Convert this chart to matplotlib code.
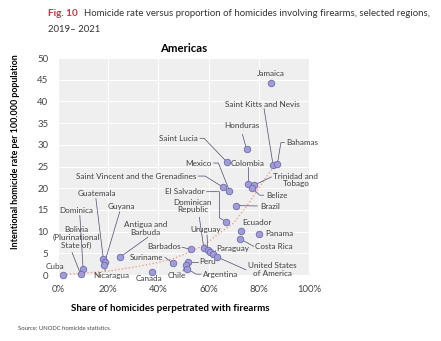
import matplotlib

matplotlib.use("Agg")
import matplotlib.pyplot as plt

plt.rcParams["font.family"] = ["Lato", "DejaVu Sans"]

# ---------------------------------------------------------------- data
COUNTRIES = [
    "Jamaica", "Saint Kitts and Nevis", "Bahamas", "Honduras", "Saint Lucia",
    "Colombia", "Trinidad and\nTobago", "Belize", "Saint Vincent and the Grenadines",
    "Mexico", "Brazil", "El Salvador", "Ecuador", "Panama", "Costa Rica",
    "Dominican\nRepublic", "Uruguay", "", "Paraguay", "United States\nof America",
    "Barbados", "Peru", "Chile", "Argentina", "Suriname", "Canada",
    "Antigua and\nBarbuda", "Guatemala", "Guyana", "Nicaragua", "Dominica",
    "Bolivia\n(Plurinational\nState of)", "Cuba",
]
FIREARM_SHARE = [  # % of homicides perpetrated with firearms
    84.8, 85.7, 87.4, 75.1, 67.2,
    75.5, 78.2, 77.3, 65.6,
    68.3, 71.1, 66.9, 72.9, 80.2, 72.6,
    58.1, 59.6, 60.6, 61.6, 63.2,
    53.0, 51.7, 50.8, 51.3, 45.8, 37.6,
    24.9, 18.1, 18.7, 18.5, 10.0,
    9.0, 2.1,
]
HOMICIDE_RATE = [  # per 100,000 population
    44.3, 25.3, 25.6, 29.0, 26.1,
    20.9, 20.7, 20.1, 20.3,
    19.4, 16.0, 12.3, 10.2, 9.4, 8.3,
    6.2, 5.8, 5.2, 4.8, 4.2,
    5.9, 3.1, 2.3, 1.5, 2.7, 0.6,
    4.2, 3.6, 3.1, 2.2, 1.5,
    0.2, 0.0,
]
# dotted trend line
TREND_X = [2, 10, 20, 30, 40, 46, 52, 58, 64, 70, 76, 82, 86]
TREND_Y = [0.1, 0.4, 0.9, 1.8, 2.9, 3.8, 5.2, 6.8, 9.5, 12.0, 16.5, 21.8, 25.0]

X_TICKS = [0, 20, 40, 60, 80, 100]
Y_TICKS = list(range(0, 51, 5))

# label placement: (x, y, ha, leader waypoints running from label to point)
LABELS = {
    "Jamaica": (84.8, 46.5, "center", []),
    "Saint Kitts and Nevis": (81.5, 39.4, "center", [(82.1, 38.3)]),
    "Bahamas": (91.0, 30.5, "left", [(90.2, 30.5), (88.8, 30.5)]),
    "Honduras": (73.3, 34.5, "center", [(73.5, 32.4)]),
    "Saint Lucia": (55.7, 31.5, "right", [(56.6, 31.5), (58.2, 31.5)]),
    "Colombia": (68.9, 25.7, "left", [(75.5, 24.9)]),
    "Trinidad and\nTobago": (94.8, 21.9, "center", [(85.0, 22.6)]),
    "Belize": (82.8, 18.4, "left", [(81.9, 18.4), (80.3, 18.4)]),
    "Saint Vincent and the Grenadines": (55.0, 22.8, "right",
                                         [(55.9, 22.8), (58.6, 22.8)]),
    "Mexico": (61.1, 25.8, "right", [(62.0, 25.8), (63.9, 25.8)]),
    "Brazil": (80.4, 15.9, "left", [(79.4, 15.9)]),
    "El Salvador": (58.3, 19.2, "right", [(59.2, 19.2), (64.3, 19.2), (64.3, 13.2)]),
    "Ecuador": (73.3, 12.1, "left", []),
    "Panama": (82.4, 9.6, "left", []),
    "Costa Rica": (78.6, 6.6, "left", [(78.0, 6.6)]),
    "Dominican\nRepublic": (53.7, 15.9, "center", [(56.3, 13.3)]),
    "Uruguay": (59.0, 10.4, "center", [(59.4, 9.2)]),
    "Paraguay": (63.0, 6.0, "left", [(62.8, 5.6)]),
    "United States\nof America": (85.5, 1.2, "center", [(74.9, 1.2)]),
    "Barbados": (48.8, 6.6, "right", [(49.4, 6.4)]),
    "Peru": (56.3, 3.1, "left", [(55.6, 3.1)]),
    "Chile": (47.4, -0.1, "center", [(49.8, 0.9)]),
    "Argentina": (57.7, 0.2, "left", [(57.0, 0.2), (55.0, 0.2)]),
    "Suriname": (41.8, 4.1, "right", [(42.6, 4.1)]),
    "Canada": (36.2, -0.9, "center", []),
    "Antigua and\nBarbuda": (34.9, 10.8, "center", [(35.8, 8.7)]),
    "Guatemala": (15.4, 18.8, "center", [(15.1, 17.6)]),
    "Guyana": (25.3, 15.9, "center", [(24.6, 14.6)]),
    "Nicaragua": (21.3, 0.0, "center", [(18.8, 1.0)]),
    "Dominica": (7.4, 14.8, "center", [(8.7, 13.7)]),
    "Bolivia\n(Plurinational\nState of)": (7.4, 8.6, "center", [(5.6, 5.2)]),
    "Cuba": (-1.2, 1.9, "center", []),
}

TEXT = "#404040"
LEADER = "#4a4a6a"

# ---------------------------------------------------------------- figure
fig = plt.figure(figsize=(4.41, 3.41), dpi=100)
ax = fig.add_axes([0.1315, 0.1935, 0.5692, 0.6364])
ax.set_facecolor("#efefef")
ax.set_xlim(0, 100)
ax.set_ylim(0, 50)
for s in ax.spines.values():
    s.set_visible(False)
ax.set_xticks(X_TICKS)
ax.set_xticklabels([f"{v}%" for v in X_TICKS])
ax.set_yticks(Y_TICKS)
ax.tick_params(length=0, labelsize=6.9, colors="#444444")
ax.tick_params(axis="x", pad=7)
ax.tick_params(axis="y", pad=7)
ax.grid(True, color="white", lw=0.8)
ax.set_axisbelow(True)

ax.plot(TREND_X, TREND_Y, ls=(0, (1, 1.5)), color="#f0a088", lw=1.0, zorder=2,
        clip_on=False)

for name, fx, hy in zip(COUNTRIES, FIREARM_SHARE, HOMICIDE_RATE):
    if name in LABELS:
        lx, ly, ha, path = LABELS[name]
        if path:
            xs = [p[0] for p in path] + [fx]
            ys = [p[1] for p in path] + [hy]
            ax.plot(xs, ys, color=LEADER, lw=0.5, zorder=3, clip_on=False)
        ax.text(lx, ly, name, ha=ha, va="center", fontsize=5.9, color=TEXT,
                linespacing=1.15, zorder=5, clip_on=False)
ax.scatter(FIREARM_SHARE, HOMICIDE_RATE, s=22, facecolor="#a09cda",
           edgecolor="#6e6aa8", linewidth=0.6, zorder=4, clip_on=False)

ax.set_title("Americas", fontsize=8.2, fontweight="bold", pad=4)
ax.set_xlabel("Share of homicides perpetrated with firearms", fontsize=7.0,
              fontweight="bold")
ax.xaxis.set_label_coords(0.448, -0.135)
ax.set_ylabel("Intentional homicide rate per 100.000 population", fontsize=6.4,
              fontweight="bold")
ax.yaxis.set_label_coords(-0.15, 0.567)

fig.text(48 / 441, 1 - 14 / 341, "Fig. 10", fontsize=7.2, fontweight="bold",
         color="#d03040", va="center")
fig.text(84 / 441, 1 - 14 / 341,
         "Homicide rate versus proportion of homicides involving firearms, "
         "selected regions,", fontsize=6.9, color="#333333", va="center")
fig.text(48 / 441, 1 - 30 / 341, "2019\u2013 2021", fontsize=6.9,
         color="#333333", va="center")
fig.text(18 / 441, 1 - 329 / 341, "Source: UNODC homicide statistics.",
         fontsize=4.2, color="#444444", va="center")

fig.savefig("out.png", dpi=100)
